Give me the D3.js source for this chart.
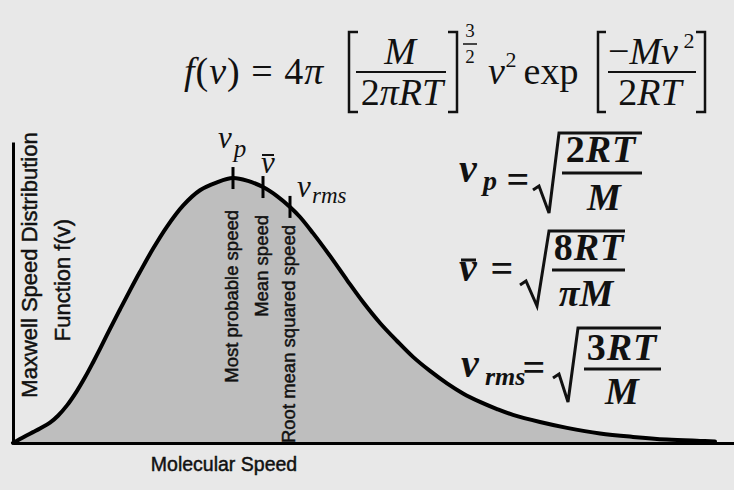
<!DOCTYPE html>
<html><head><meta charset="utf-8">
<script src="https://cdn.jsdelivr.net/npm/d3@7"></script>
<style>
html,body{margin:0;padding:0;background:#e8e8e8;}
svg{display:block;}
</style></head>
<body>
<script>
// ---- data ----
const speeds  = [0,7,14,20,27,37,45,54,64,72,80,87,97,107,117,127,140,154,170,187,204,220,235,250,264,277,287,300,317,334,350,367,384,400,417,434,450,467,484,500,527,554,587,620,654,687,702];
const density = [0,0.015,0.029,0.041,0.055,0.077,0.103,0.142,0.197,0.248,0.304,0.355,0.431,0.504,0.576,0.646,0.733,0.817,0.896,0.954,0.984,1.0,0.989,0.966,0.932,0.891,0.853,0.792,0.706,0.615,0.532,0.453,0.385,0.325,0.272,0.225,0.187,0.155,0.128,0.106,0.079,0.057,0.036,0.023,0.013,0.008,0.006];
const markerSpeeds = [220, 250, 277];
const markerLabels = ["Most probable speed", "Mean speed", "Root mean squared speed"];
const xTitle = "Molecular Speed";
const yTitleLines = ["Maxwell Speed Distribution", "Function f(v)"];

const W = 734, H = 490;
const svg = d3.select("body").append("svg").attr("width", W).attr("height", H);
svg.append("rect").attr("width", W).attr("height", H).attr("fill", "#e8e8e8");

const x = d3.scaleLinear().domain([0, 721]).range([13, 734]);
const y = d3.scaleLinear().domain([0, 1.136]).range([443, 142]);

const pts = speeds.map((s, i) => [s, density[i]]);
const crv = d3.curveCatmullRom.alpha(0.5);

// area
svg.append("path").datum(pts)
  .attr("fill", "#bebebe")
  .attr("d", d3.area().x(d => x(d[0])).y0(y(0)).y1(d => y(d[1])).curve(crv));

// axes (no ticks)
const gx = svg.append("g").attr("transform", `translate(0,${y(0)})`)
  .call(d3.axisBottom(x).tickValues([]).tickSizeOuter(0));
gx.select(".domain").attr("stroke", "#000").attr("stroke-width", 3);
const gy = svg.append("g").attr("transform", `translate(${x(0)},0)`)
  .call(d3.axisLeft(y).tickValues([]).tickSizeOuter(0));
gy.select(".domain").attr("stroke", "#000").attr("stroke-width", 3);

// curve
svg.append("path").datum(pts)
  .attr("fill", "none").attr("stroke", "#000").attr("stroke-width", 4)
  .attr("stroke-linecap", "round")
  .attr("d", d3.line().x(d => x(d[0])).y(d => y(d[1])).curve(crv));

const sans = "Liberation Sans, Arial, sans-serif";
function sansText(sel, size) {
  return sel.attr("font-family", sans).attr("font-size", size)
    .attr("fill", "#111").attr("stroke", "#111").attr("stroke-width", 0.45);
}

// markers
const labelEnd = [210, 215, 225];
markerSpeeds.forEach((s, i) => {
  const f = density[speeds.indexOf(s)];
  const cx = x(s), cy = y(f);
  svg.append("line").attr("x1", cx).attr("x2", cx).attr("y1", cy - 11).attr("y2", cy + 11)
    .attr("stroke", "#000").attr("stroke-width", 3);
  sansText(svg.append("text").attr("transform", `translate(${cx + 5},${labelEnd[i]}) rotate(-90)`)
    .attr("text-anchor", "end"), 18.5).text(markerLabels[i]);
});

// axis titles
sansText(svg.append("text").attr("x", 224).attr("y", 471).attr("text-anchor", "middle"), 19.5).text(xTitle);
sansText(svg.append("text").attr("transform", "translate(37,265) rotate(-90)").attr("text-anchor", "middle"), 22).text(yTitleLines[0]);
sansText(svg.append("text").attr("transform", "translate(70,280) rotate(-90)").attr("text-anchor", "middle"), 22).text(yTitleLines[1]);

// ---- math helpers ----
const serif = "Liberation Serif, Times New Roman, serif";
function mt(parts, px, by, size, opts = {}) {
  const el = svg.append("text").attr("x", px).attr("y", by)
    .attr("text-anchor", opts.anchor || "middle")
    .attr("font-family", serif).attr("font-size", size)
    .attr("font-weight", opts.bold ? "bold" : "normal")
    .attr("fill", "#111");
  if (opts.ls) el.attr("letter-spacing", opts.ls);
  parts.forEach(p => {
    el.append("tspan").attr("font-style", p[1] ? "italic" : "normal").text(p[0]);
  });
  return el;
}
function ln(x1, y1, x2, y2, w) {
  svg.append("line").attr("x1", x1).attr("y1", y1).attr("x2", x2).attr("y2", y2)
    .attr("stroke", "#111").attr("stroke-width", w);
}
function pth(d, w) {
  svg.append("path").attr("d", d).attr("fill", "none").attr("stroke", "#111")
    .attr("stroke-width", w).attr("stroke-linejoin", "miter");
}

// main formula
const F = 38;
mt([["f", true], ["(", false], ["v", true], [") = 4", false], ["π", true]], 184, 84, F, {anchor: "start", ls: 1});
pth("M358,32 H349 V112 H358", 2.5);
mt([["M", true]], 400, 64, F);
ln(356, 72, 446, 72, 2);
mt([["2", false], ["πRT", true]], 402, 105, F);
pth("M448,32 H457 V112 H448", 2.5);
mt([["3", false]], 470, 37, 19);
ln(463, 44, 477, 44, 1.5);
mt([["2", false]], 470, 63, 19);
mt([["v", true]], 488, 84, F, {anchor: "start"});
mt([["2", false]], 511, 67, 22);
mt([["exp", false]], 551, 84, F);
pth("M606,32 H598 V112 H606", 2.5);
mt([["−", false], ["Mv", true]], 608, 64, F, {anchor: "start"});
mt([["2", false]], 689, 48, 22);
ln(608, 72, 696, 72, 2);
mt([["2", false], ["RT", true]], 650, 105, F);
pth("M696,32 H705 V112 H696", 2.5);

// right-side equations
const E = 40;
// v_p
mt([["v", true]], 459, 182, E, {bold: true, anchor: "start"});
mt([["p", true]], 483, 190, 28, {bold: true, anchor: "start"});
mt([["=", false]], 518, 193, E, {bold: true});
pth("M533,190 L539,186 L549,213 L559,133 L642,133", 3);
mt([["2", false], ["RT", true]], 601, 162, 38, {bold: true, ls: 1});
ln(562, 173, 642, 173, 3);
mt([["M", true]], 604, 210, 38, {bold: true});
// v bar
mt([["v", true]], 468, 281, E, {bold: true});
ln(461, 260, 476, 260, 3);
mt([["=", false]], 502, 282, E, {bold: true});
pth("M520,285 L526,281 L537,306 L549,231 L625,231", 3);
mt([["8", false], ["RT", true]], 589, 260, 38, {bold: true, ls: 1});
ln(552, 270, 625, 270, 3);
mt([["πM", true]], 586, 306, 38, {bold: true});
// v rms
mt([["v", true]], 461, 377, E, {bold: true, anchor: "start"});
mt([["rms", true]], 485, 385, 26, {bold: true, anchor: "start"});
mt([["=", false]], 534, 381, E, {bold: true});
pth("M553,378 L559,374 L568,402 L578,328 L661,328", 3);
mt([["3", false], ["RT", true]], 622, 360, 38, {bold: true, ls: 1});
ln(584, 369, 661, 369, 3);
mt([["M", true]], 622, 404, 38, {bold: true});

// labels near the curve
mt([["v", true]], 225, 148, 31);
mt([["p", true]], 240, 157, 25);
mt([["v", true]], 268, 173, 31);
ln(262, 155, 274, 155, 2);
mt([["v", true]], 304, 197, 31);
mt([["rms", true]], 312, 203, 23, {anchor: "start"});
</script>
</body></html>
